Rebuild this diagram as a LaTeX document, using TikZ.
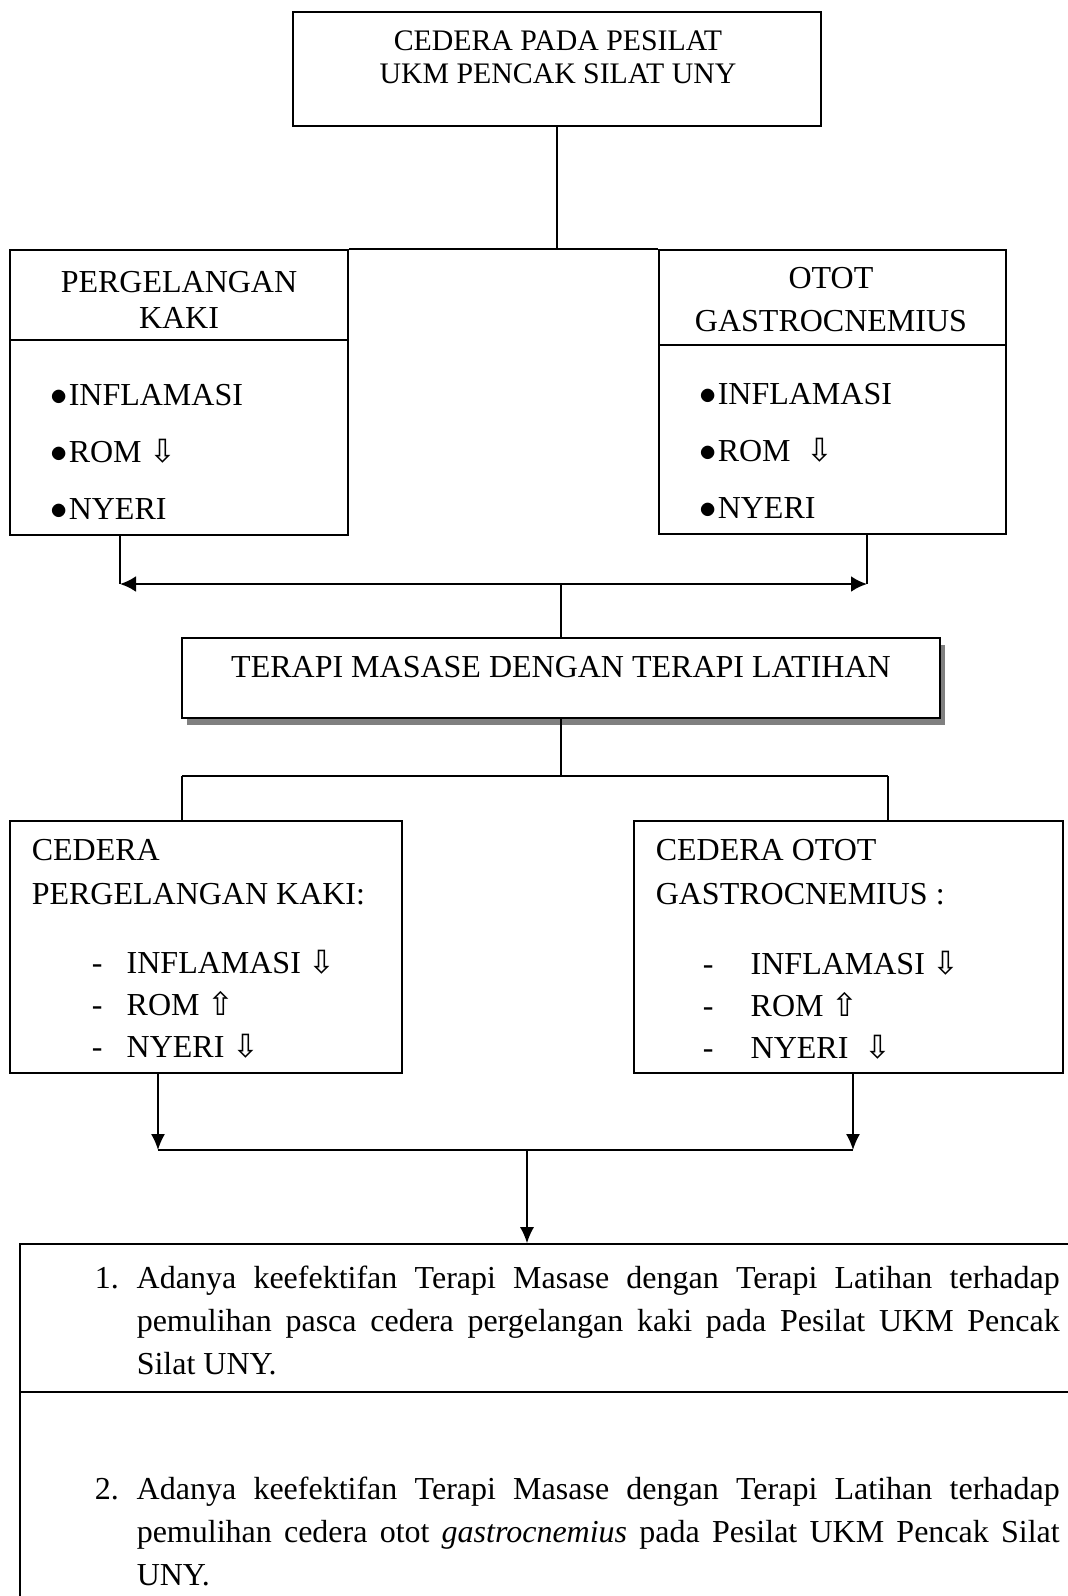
\documentclass[tikz,border=0pt]{standalone}
\usepackage{fontspec}
\setmainfont{Liberation Serif}
\newfontfamily\panahfont{DejaVu Sans}
\usetikzlibrary{arrows.meta,shadows}

\newcommand{\turun}{{\panahfont ⇩}}
\newcommand{\naik}{{\panahfont ⇧}}
\newcommand{\butir}{\makebox[9pt][l]{$\bullet$}}

\begin{document}
\begin{tikzpicture}[x=0.5pt, y=-0.5pt, >={Latex[length=8pt,width=7pt]}, line width=0.75pt,
        box/.style={draw, line width=0.8pt, inner sep=0pt, fill=white},
        txt/.style={inner sep=0pt, font=\fontsize{16}{18}\selectfont}]
    \useasboundingbox (0,0) rectangle (1067,1596);

    % kotak
    \node[box, minimum width=264pt, minimum height=57pt] (cedera) at (557,69) {};
    \node[box, minimum width=169pt, minimum height=142.5pt] (pk) at (179,392.5) {};
    \node[box, minimum width=173.5pt, minimum height=142pt] (og) at (832.5,392) {};
    \node[box, minimum width=379pt, minimum height=40pt,
          drop shadow={shadow xshift=2.5pt, shadow yshift=-3.5pt, fill=black!50, opacity=1}] (terapi) at (561,678) {};
    \node[box, minimum width=196pt, minimum height=126pt] (cpk) at (206,947) {};
    \node[box, minimum width=214.5pt, minimum height=126pt] (cog) at (848.5,947) {};
    \node[box, minimum width=530pt, minimum height=188pt] (hasil) at (550,1432) {};

    \draw[line width=0.8pt] ([yshift=-45.5pt]pk.north west) -- ([yshift=-45.5pt]pk.north east);
    \draw[line width=0.8pt] ([yshift=-48pt]og.north west) -- ([yshift=-48pt]og.north east);
    \draw[line width=0.8pt] ([yshift=-74.5pt]hasil.north west) -- ([yshift=-74.5pt]hasil.north east);

    % teks
    \node[txt, align=center, font=\fontsize{14.9}{16.3}\selectfont] (cedera-t) at (558,57) {CEDERA PADA PESILAT\\UKM PENCAK SILAT UNY};
    \node[txt, align=center] (pk-t) at (179,300) {PERGELANGAN\\KAKI};
    \node[txt, align=center, font=\fontsize{16}{21.5}\selectfont] (og-t) at (831,300) {OTOT\\GASTROCNEMIUS};
    \node[txt, anchor=west, align=left, font=\fontsize{16}{28.5}\selectfont] (pk-isi) at (50,452)
        {\butir INFLAMASI\\\butir ROM \turun\\\butir NYERI};
    \node[txt, anchor=west, align=left, font=\fontsize{16}{28.5}\selectfont] (og-isi) at (699,451)
        {\butir INFLAMASI\\\butir ROM\ \ \turun\\\butir NYERI};
    \node[txt] (terapi-t) at (561,667) {TERAPI MASASE DENGAN TERAPI LATIHAN};
    \node[txt, anchor=west, align=left, font=\fontsize{16}{22}\selectfont] (cpk-t) at (31,872) {CEDERA\\PERGELANGAN KAKI:};
    \node[txt, anchor=west, align=left, font=\fontsize{16}{21}\selectfont] (cpk-isi) at (91,1004)
        {\makebox[17.5pt][l]{-}INFLAMASI \turun\\\makebox[17.5pt][l]{-}ROM \naik\\\makebox[17.5pt][l]{-}NYERI \turun};
    \node[txt, anchor=west, align=left, font=\fontsize{16}{22}\selectfont] (cog-t) at (655,872) {CEDERA OTOT\\GASTROCNEMIUS :};
    \node[txt, anchor=west, align=left, font=\fontsize{16}{21}\selectfont] (cog-isi) at (702,1005)
        {\makebox[24pt][l]{-}INFLAMASI \turun\\\makebox[24pt][l]{-}ROM \naik\\\makebox[24pt][l]{-}NYERI\ \ \turun};
    \node[txt, anchor=north west, font=\fontsize{16}{21.5}\selectfont] (hasil-1) at (94,1265)
        {\makebox[21pt][l]{1.}\parbox[t]{461.5pt}{Adanya keefektifan Terapi Masase dengan Terapi Latihan terhadap\linebreak
         pemulihan pasca cedera pergelangan kaki pada Pesilat UKM Pencak\linebreak Silat UNY.}};
    \node[txt, anchor=north west, font=\fontsize{16}{21.5}\selectfont] (hasil-2) at (94,1476)
        {\makebox[21pt][l]{2.}\parbox[t]{461.5pt}{Adanya keefektifan Terapi Masase dengan Terapi Latihan terhadap\linebreak
         pemulihan cedera otot \textit{gastrocnemius} pada Pesilat UKM Pencak Silat\linebreak UNY.}};

    % titik bantu
    \coordinate (la) at (120,584);
    \coordinate (ra) at (867,584);
    \coordinate (tl) at (182,776);
    \coordinate (tr) at (888,776);
    \coordinate (bl) at (158,1150);
    \coordinate (br) at (853,1150);
    \coordinate (bm) at (527,1150);

    % garis
    \draw (cedera.south) -- (cedera.south |- pk.north);
    \draw[line width=0.8pt] (pk.north east) -- (og.north west);
    \draw (pk.south -| la) -- (la);
    \draw (og.south -| ra) -- (ra);
    \draw[{Latex[length=8pt,width=8pt]}-{Latex[length=8pt,width=8pt]}, line width=1.3pt] (la) -- (ra);
    \draw (terapi.north |- la) -- (terapi.north);
    \draw (terapi.south) -- (terapi.south |- tl);
    \draw (tl) -- (tr);
    \draw (tl) -- (cpk.north -| tl);
    \draw (tr) -- (cog.north -| tr);
    \draw[->] (cpk.south -| bl) -- (bl);
    \draw[->] (cog.south -| br) -- (br);
    \draw[line width=1pt] (bl) -- (br);
    \draw[->] (bm) -- (hasil.north -| bm);
\end{tikzpicture}
\end{document}
